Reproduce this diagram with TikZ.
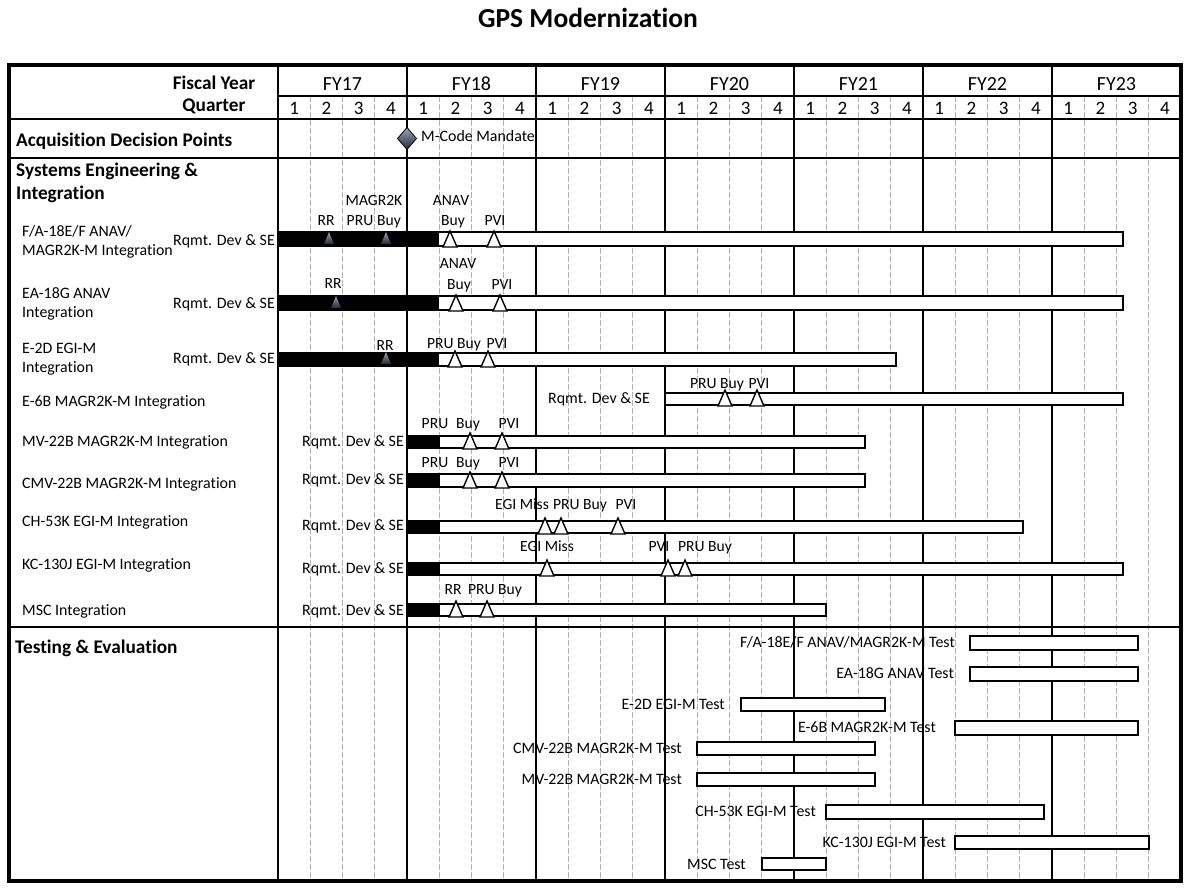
\documentclass[tikz,border=0pt]{standalone}
\usepackage{fontspec}
\setmainfont{Carlito}[Ligatures=NoCommon]
\definecolor{slatetop}{HTML}{9AA5B8}
\definecolor{slatebot}{HTML}{1F2838}
\newcommand\openms[2]{\draw[openmile] (#1-7,#2+1) -- (#1,#2-15) -- (#1+7,#2+1) -- cycle;}
\newcommand\fillms[2]{\shade[fillmile] (#1-5,#2-2) -- (#1,#2-14) -- (#1+5,#2-2) -- cycle;}
\newcommand\sebar[5]{\draw[barbox] (#3,#1) rectangle (#5,#2); \fill[black] (#3,#1) rectangle (#4,#2);}
\begin{document}
\begin{tikzpicture}[x=1pt,y=-1pt,
  lbl/.style={font=\fontsize{15.9}{16}\selectfont, inner sep=0pt, text height=10.5pt, text depth=1pt},
  msl/.style={font=\fontsize{15.6}{16}\selectfont, inner sep=0pt, text height=10.5pt, text depth=1pt, anchor=center},
  hdr/.style={font=\bfseries\fontsize{19.3}{20}\selectfont, inner sep=0pt, text height=13pt, text depth=1pt},
  yr/.style={font=\fontsize{20}{22}\selectfont, inner sep=0pt, text height=13pt, text depth=0pt},
  qn/.style={font=\fontsize{19}{21}\selectfont, inner sep=0pt, text height=12.5pt, text depth=0pt},
  barbox/.style={draw=black, line width=2pt, fill=white},
  yearline/.style={line width=2pt},
  qline/.style={draw=black!30, dash pattern=on 6pt off 2pt, line width=0.7pt},
  openmile/.style={draw=black, line width=1.4pt, fill=white, line join=miter},
  fillmile/.style={top color=slatetop, bottom color=slatebot, draw=none}
]
\useasboundingbox (0,0) rectangle (1190,889);
\fill[white] (0,0) rectangle (1190,889);
% title
\node[font=\bfseries\fontsize{27.5}{30}\selectfont, inner sep=0pt] (title) at (588,18) {GPS Modernization};
% quarter grid lines
\foreach \i in {1,2,3,5,6,7,9,10,11,13,14,15,17,18,19,21,22,23,25,26,27}
  \draw[qline] (278+32.25*\i,96) -- (278+32.25*\i,881);
% horizontal lines
\draw[line width=1.2pt] (278,96) -- (1181,96);
\draw[line width=1.5pt] (9,119) -- (1181,119);
\draw[line width=1.2pt] (9,158) -- (1181,158);
\draw[line width=1.2pt] (9,627) -- (1181,627);
% year lines
\draw[yearline] (278,65) -- (278,881);
\foreach \i in {1,...,6}
  \draw[yearline] (278+129*\i,65) -- (278+129*\i,881);
% outer frame
\draw[line width=3.5pt] (9,65) rectangle (1181,881);
% header texts
\node[hdr, anchor=center] (fy) at (214,83) {Fiscal Year};
\node[hdr, anchor=center] (qt) at (214,105) {Quarter};
\foreach \y [count=\k from 0] in {17,18,19,20,21,22,23}
  \node[yr] (fy\y) at (342.5+129*\k,84) {FY\y};
\foreach \k in {0,...,27}{
  \pgfmathtruncatemacro\q{mod(\k,4)+1}
  \node[qn] (q\k) at (278+32.25*\k+16.1,108) {\q};
}
\node[hdr, anchor=west] (adp) at (16,140) {Acquisition Decision Points};
\node[hdr, anchor=west] (sei1) at (16,170) {Systems Engineering \&};
\node[hdr, anchor=west] (sei2) at (16,193) {Integration};
\node[hdr, anchor=west] (te) at (15,647) {Testing \& Evaluation};
% M-Code diamond
\shade[fillmile] (407,127.5) -- (416.5,138.5) -- (407,149.5) -- (397.5,138.5) -- cycle;
\draw[line width=0.8pt] (407,127.5) -- (416.5,138.5) -- (407,149.5) -- (397.5,138.5) -- cycle;
\node[lbl, anchor=west] (mcode) at (421,137) {M-Code Mandate};

% ---------- Row 1 F/A-18E/F
\node[lbl, anchor=west] (l1a) at (22,232) {F/A-18E/F ANAV/};
\node[lbl, anchor=west] (l1b) at (22,251) {MAGR2K-M Integration};
\node[lbl, anchor=east] (r1) at (275,241) {Rqmt. Dev \& SE};
\sebar{232}{246}{278}{439}{1123}
\fillms{329}{246} \fillms{386}{246}
\openms{450}{246} \openms{494}{246}
\node[msl] (m1a) at (326,221) {RR};
\node[msl] (m1b) at (374,201) {MAGR2K};
\node[msl] (m1c) at (360,221) {PRU};
\node[msl] (m1d) at (389,221) {Buy};
\node[msl] (m1e) at (451,201) {ANAV};
\node[msl] (m1f) at (453,221) {Buy};
\node[msl] (m1g) at (495,221) {PVI};

% ---------- Row 2 EA-18G
\node[lbl, anchor=west] (l2a) at (22,294) {EA-18G ANAV};
\node[lbl, anchor=west] (l2b) at (22,313) {Integration};
\node[lbl, anchor=east] (r2) at (275,304) {Rqmt. Dev \& SE};
\sebar{296}{310}{278}{439}{1123}
\fillms{336}{310}
\openms{456}{310} \openms{500}{310}
\node[msl] (m2a) at (333,284) {RR};
\node[msl] (m2b) at (458,264) {ANAV};
\node[msl] (m2c) at (459,285) {Buy};
\node[msl] (m2d) at (502,285) {PVI};

% ---------- Row 3 E-2D
\node[lbl, anchor=west] (l3a) at (22,349) {E-2D EGI-M};
\node[lbl, anchor=west] (l3b) at (22,368) {Integration};
\node[lbl, anchor=east] (r3) at (275,359) {Rqmt. Dev \& SE};
\sebar{353}{366}{278}{439}{896}
\fillms{386}{366}
\openms{455}{366} \openms{488}{366}
\node[msl] (m3a) at (385,346) {RR};
\node[msl] (m3b) at (454,344) {PRU Buy};
\node[msl] (m3c) at (497,344) {PVI};

% ---------- Row 4 E-6B
\node[lbl, anchor=west] (l4) at (22,402) {E-6B MAGR2K-M Integration};
\node[lbl, anchor=east] (r4) at (650,399) {Rqmt. Dev \& SE};
\draw[barbox] (665,393) rectangle (1123,405);
\openms{725}{405} \openms{757}{405}
\node[msl] (m4a) at (717,384) {PRU Buy};
\node[msl] (m4b) at (759,384) {PVI};

% ---------- Row 5 MV-22B
\node[lbl, anchor=west] (l5) at (22,442) {MV-22B MAGR2K-M Integration};
\node[lbl, anchor=east] (r5) at (404,442) {Rqmt. Dev \& SE};
\sebar{436}{448}{407}{440}{865}
\openms{470}{448} \openms{502}{448}
\node[msl] (m5a) at (435,424) {PRU};
\node[msl] (m5b) at (468,424) {Buy};
\node[msl] (m5c) at (509,424) {PVI};

% ---------- Row 6 CMV-22B
\node[lbl, anchor=west] (l6) at (22,484) {CMV-22B MAGR2K-M Integration};
\node[lbl, anchor=east] (r6) at (404,480) {Rqmt. Dev \& SE};
\sebar{474}{487}{407}{440}{865}
\openms{470}{487} \openms{502}{487}
\node[msl] (m6a) at (435,463) {PRU};
\node[msl] (m6b) at (468,463) {Buy};
\node[msl] (m6c) at (509,463) {PVI};

% ---------- Row 7 CH-53K
\node[lbl, anchor=west] (l7) at (22,522) {CH-53K EGI-M Integration};
\node[lbl, anchor=east] (r7) at (404,526) {Rqmt. Dev \& SE};
\sebar{521}{533}{407}{440}{1023}
\openms{545}{533} \openms{561}{533} \openms{618}{533}
\node[msl] (m7a) at (522,505) {EGI Miss};
\node[msl] (m7b) at (580,505) {PRU Buy};
\node[msl] (m7c) at (626,505) {PVI};

% ---------- Row 8 KC-130J
\node[lbl, anchor=west] (l8) at (22,565) {KC-130J EGI-M Integration};
\node[lbl, anchor=east] (r8) at (404,569) {Rqmt. Dev \& SE};
\sebar{563}{575}{407}{440}{1123}
\openms{547}{575} \openms{668}{575} \openms{685}{575}
\node[msl] (m8a) at (547,547) {EGI Miss};
\node[msl] (m8b) at (659,547) {PVI};
\node[msl] (m8c) at (705,547) {PRU Buy};

% ---------- Row 9 MSC
\node[lbl, anchor=west] (l9) at (22,611) {MSC Integration};
\node[lbl, anchor=east] (r9) at (404,611) {Rqmt. Dev \& SE};
\sebar{604}{616}{407}{440}{826}
\openms{456}{616} \openms{487}{616}
\node[msl] (m9a) at (453,590) {RR};
\node[msl] (m9b) at (495,590) {PRU Buy};

% ---------- Testing & Evaluation
\draw[barbox] (970,636) rectangle (1138,650);
\node[lbl, anchor=east] (t1) at (955,643) {F/A-18E/F ANAV/MAGR2K-M Test};
\draw[barbox] (970,667) rectangle (1138,681);
\node[lbl, anchor=east] (t2) at (954,674) {EA-18G ANAV Test};
\draw[barbox] (741,698) rectangle (885,711);
\node[lbl, anchor=east] (t3) at (725,705) {E-2D EGI-M Test};
\draw[barbox] (955,721) rectangle (1138,735);
\node[lbl, anchor=east] (t4) at (936,728) {E-6B MAGR2K-M Test};
\draw[barbox] (697,742) rectangle (875,755);
\node[lbl, anchor=east] (t5) at (682,749) {CMV-22B MAGR2K-M Test};
\draw[barbox] (697,773) rectangle (875,786);
\node[lbl, anchor=east] (t6) at (682,780) {MV-22B MAGR2K-M Test};
\draw[barbox] (826,805) rectangle (1044,819);
\node[lbl, anchor=east] (t7) at (816,812) {CH-53K EGI-M Test};
\draw[barbox] (955,836) rectangle (1149,849);
\node[lbl, anchor=east] (t8) at (946,843) {KC-130J EGI-M Test};
\draw[barbox] (762,858) rectangle (826,870);
\node[lbl, anchor=east] (t9) at (746,865) {MSC Test};
\end{tikzpicture}
\end{document}
